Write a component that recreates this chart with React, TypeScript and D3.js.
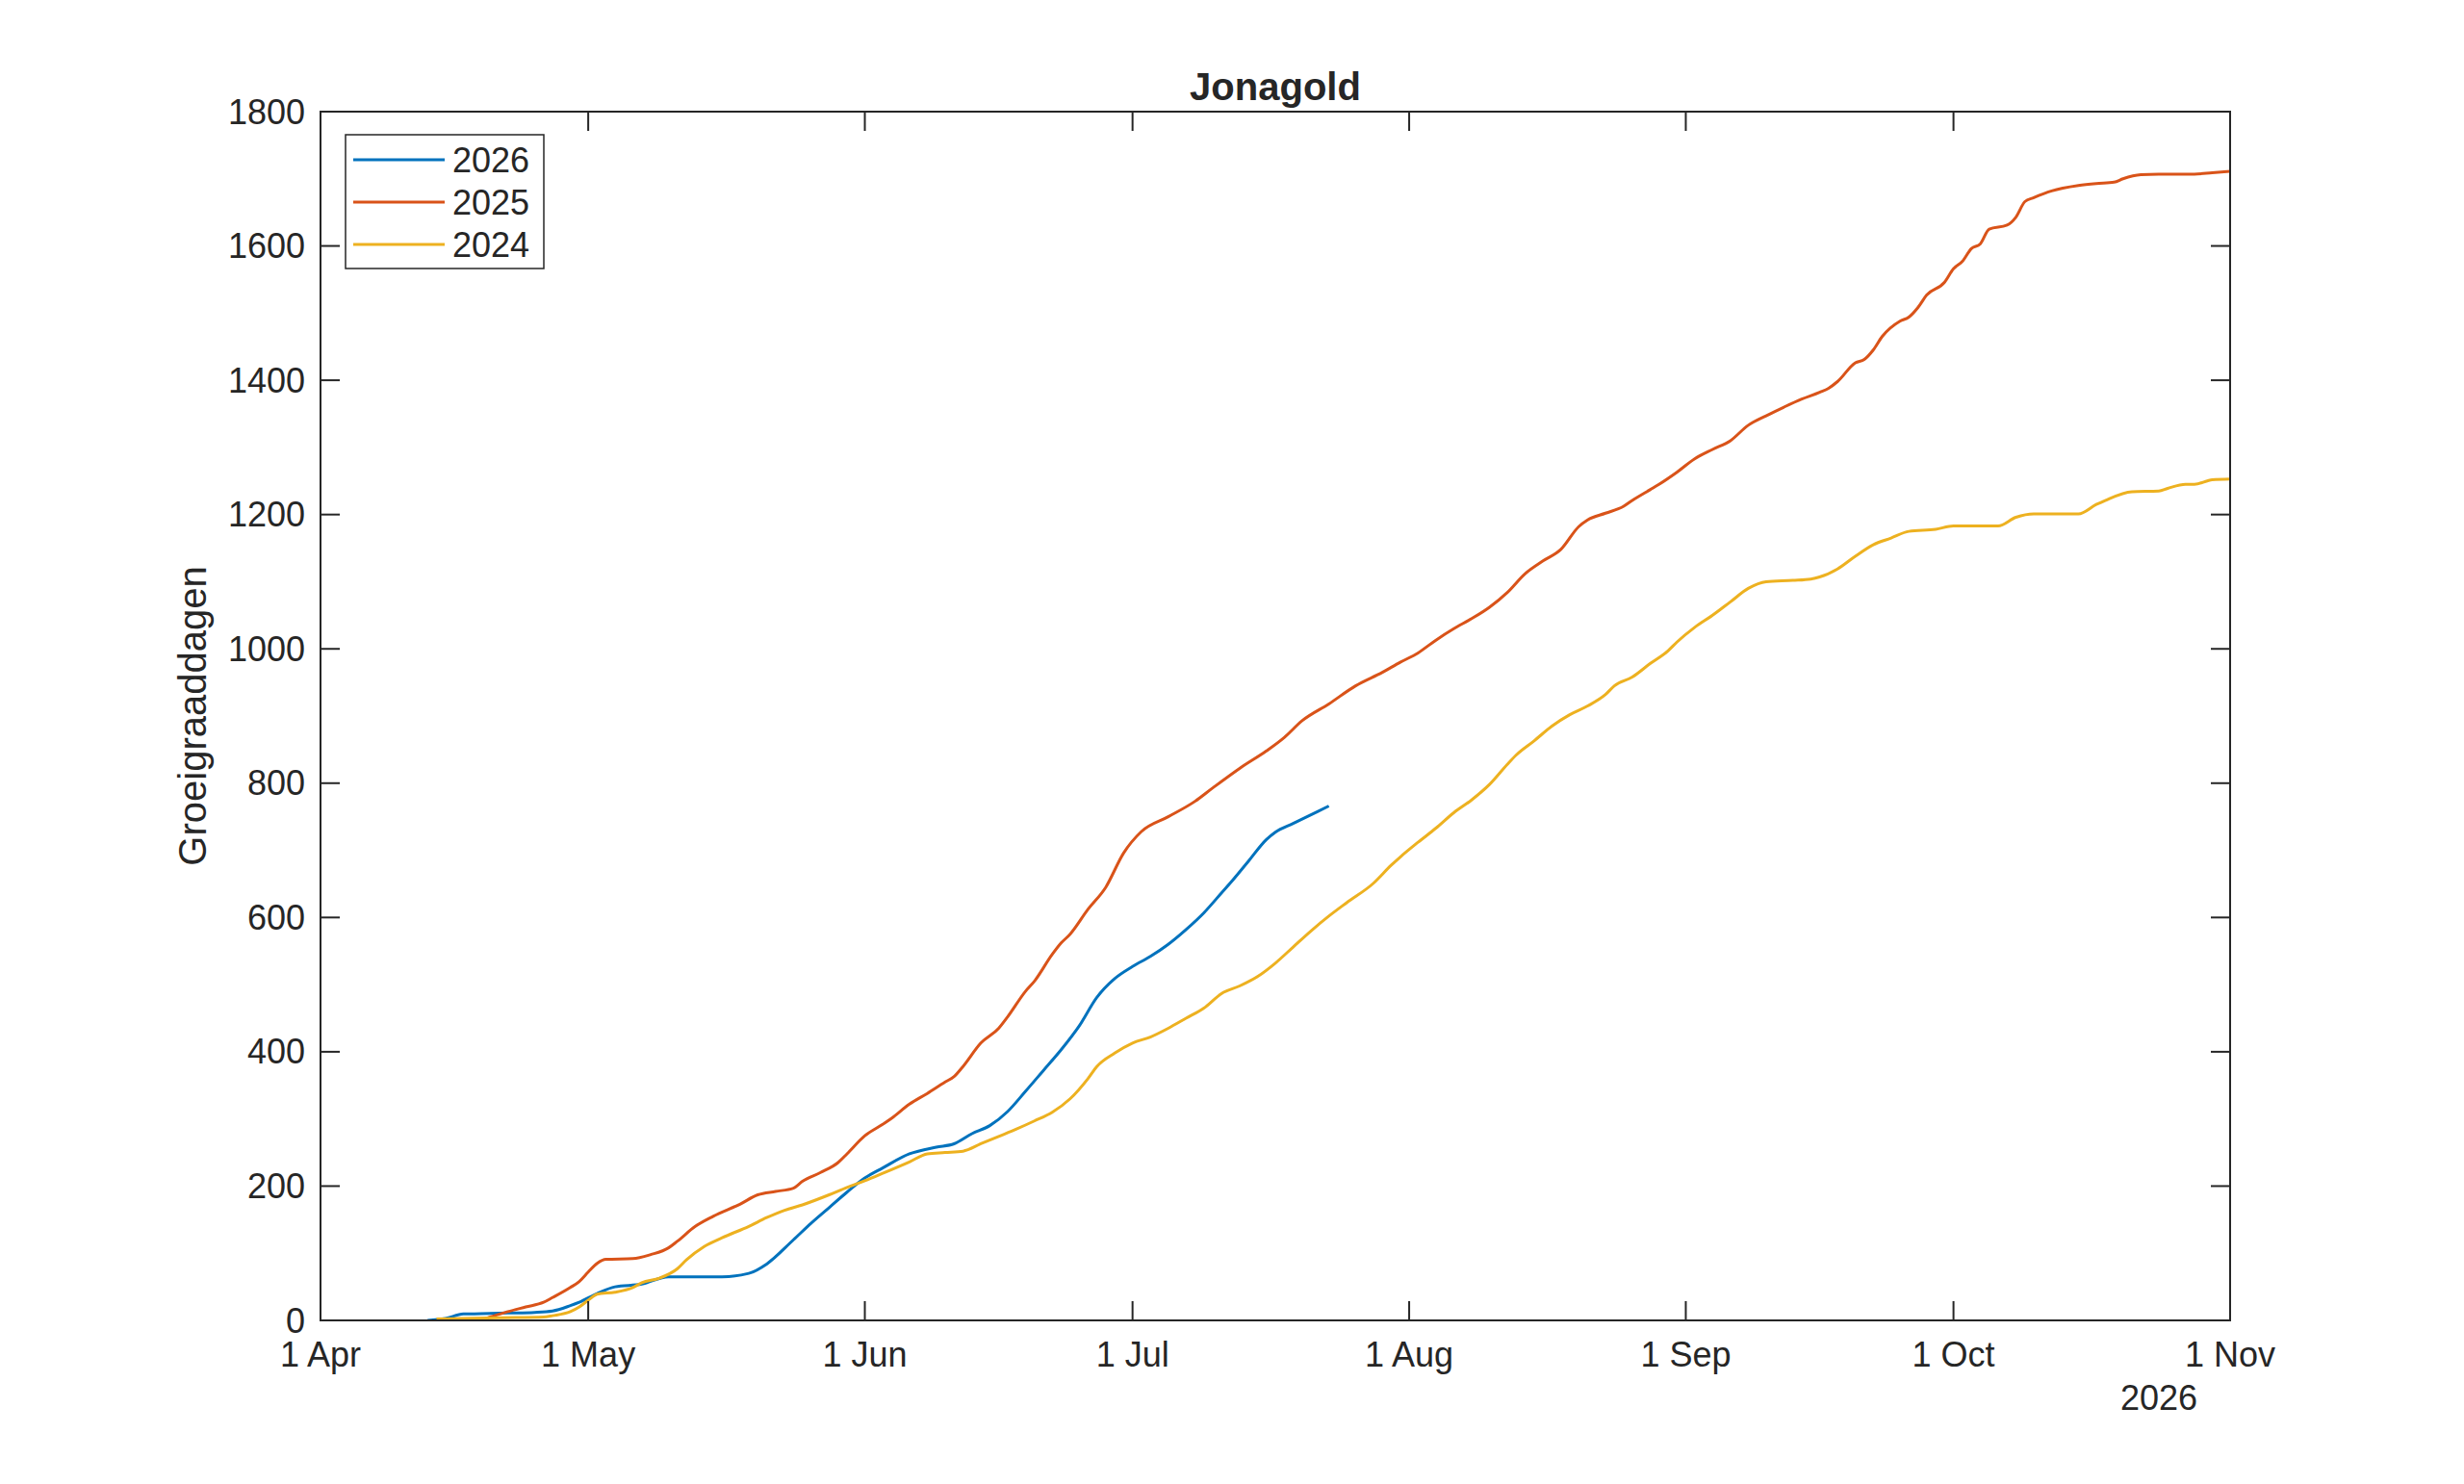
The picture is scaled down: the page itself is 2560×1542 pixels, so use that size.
import React from "react";
import * as d3 from "d3";

// Day offsets from 1 April 2026 and cumulative growing degree days
const days2026 = [12, 14, 16, 18, 21, 24, 26, 28, 29, 31, 33, 36, 39, 45, 48, 50, 53, 55, 57, 59, 61, 63, 66, 69, 71, 73, 75, 77, 79, 81, 83, 85, 87, 89, 91, 93, 95, 97, 99, 101, 102, 104, 106, 107, 109, 111, 113];
const gdd2026 = [0, 3, 9.5, 10, 11, 12, 14, 22, 27, 40, 50, 54, 65, 65, 70, 84, 120, 145, 168, 191, 212, 227, 248, 258, 263, 278, 290, 311, 341, 372, 403, 438, 481, 509, 527, 542, 560, 582, 607, 637, 652, 684, 716, 727, 740, 753, 766];

const days2025 = [18, 19, 21, 23, 25, 26, 28, 29, 30, 31, 32, 35, 37, 39, 40, 42, 44, 47, 49, 51, 53, 54, 56, 58, 59, 61, 63, 64, 66, 68, 70, 71, 72, 74, 76, 77, 79, 80, 82, 83, 84, 86, 88, 90, 92, 95, 98, 100, 103, 106, 108, 110, 113, 116, 119, 121, 123, 125, 127, 129, 131, 133, 135, 137, 139, 141, 142, 144, 146, 147, 149, 150, 152, 154, 156, 158, 160, 162, 164, 166, 168, 169, 170, 172, 173, 174, 175, 177, 178, 179, 180, 182, 183, 184, 185, 186, 187, 189, 190, 191, 192, 194, 197, 199, 201, 202, 204, 206, 210, 212, 214];
const gdd2025 = [0, 5, 13, 20, 27, 34, 49, 58, 72, 85, 91, 92, 98, 108, 118, 140, 155, 173, 187, 192, 197, 207, 220, 235, 248, 275, 292, 301, 322, 338, 355, 363, 378, 413, 435, 452, 490, 505, 545, 562, 575, 612, 645, 696, 728, 750, 773, 793, 822, 848, 868, 893, 918, 945, 965, 980, 994, 1013, 1030, 1045, 1062, 1084, 1112, 1131, 1148, 1182, 1192, 1202, 1212, 1221, 1237, 1245, 1263, 1283, 1297, 1310, 1333, 1347, 1360, 1372, 1382, 1388, 1398, 1426, 1431, 1445, 1465, 1488, 1494, 1508, 1527, 1546, 1566, 1577, 1596, 1603, 1625, 1631, 1643, 1666, 1672, 1682, 1690, 1693, 1695, 1700, 1706, 1707, 1707, 1709, 1711];

const days2024 = [13, 16, 20, 25, 26, 28, 29, 30, 31, 33, 35, 36, 38, 40, 41, 43, 45, 48, 50, 52, 54, 57, 59, 61, 63, 66, 68, 70, 72, 74, 76, 78, 80, 82, 84, 86, 87, 89, 91, 93, 95, 97, 99, 101, 103, 105, 107, 109, 111, 113, 115, 118, 120, 121, 123, 125, 127, 129, 131, 133, 134, 136, 138, 140, 142, 144, 145, 147, 149, 151, 152, 154, 156, 158, 160, 162, 165, 167, 168, 170, 172, 174, 176, 178, 181, 183, 188, 190, 192, 197, 199, 200, 203, 206, 207, 209, 210, 212, 214];
const gdd2024 = [2, 3, 4, 5, 7, 13, 20, 30, 39, 42, 49, 56, 63, 77, 90, 110, 123, 140, 153, 164, 172, 187, 198, 208, 219, 236, 248, 250, 252, 263, 274, 285, 297, 310, 330, 360, 378, 398, 413, 422, 435, 450, 465, 487, 498, 512, 532, 556, 580, 602, 622, 651, 678, 690, 712, 733, 756, 775, 798, 828, 842, 863, 885, 902, 915, 932, 945, 958, 978, 997, 1010, 1032, 1050, 1070, 1090, 1100, 1102, 1104, 1107, 1119, 1138, 1155, 1165, 1175, 1178, 1183, 1183, 1196, 1201, 1201, 1215, 1221, 1234, 1235, 1239, 1245, 1245, 1252, 1253];

const seriesNames = ["2026", "2025", "2024"];
const seriesColors = ["#0072BD", "#D95319", "#EDB120"];
const yTicks = [0, 200, 400, 600, 800, 1000, 1200, 1400, 1600, 1800];
const xTickLabels = ["1 Apr", "1 May", "1 Jun", "1 Jul", "1 Aug", "1 Sep", "1 Oct", "1 Nov"];
const chartTitle = "Jonagold";
const yLabel = "Groeigraaddagen";
const yearLabel = "2026";

const W = 2560;
const H = 1542;
const L = 333, R = 2317, T = 116, B = 1372;
const FONT = "'Liberation Sans', Arial, Helvetica, sans-serif";
const AX = "#262626";

const start = new Date(2026, 3, 1);
const toDate = (d: number) => new Date(start.getTime() + d * 86400000);

export default function App() {
  const x = d3.scaleTime().domain([start, new Date(2026, 10, 1)]).range([L, R]);
  const y = d3.scaleLinear().domain([0, 1800]).range([B, T]);
  const xTicks = d3.timeMonth.range(start, new Date(2026, 10, 2));

  const series = [
    { days: days2026, vals: gdd2026 },
    { days: days2025, vals: gdd2025 },
    { days: days2024, vals: gdd2024 },
  ];
  const line = d3
    .line<[number, number]>()
    .x((p) => x(toDate(p[0])))
    .y((p) => y(p[1]))
    .curve(d3.curveMonotoneX);

  const tickLen = 20;

  return (
    <div style={{ position: "fixed", left: 0, top: 0, width: W, height: H, background: "#fff" }}>
      <svg width={W} height={H} style={{ display: "block" }} fontFamily={FONT}>
        <rect x={0} y={0} width={W} height={H} fill="#fff" />
        {/* data lines */}
        <g clipPath="url(#clip)">
          {series.map((s, i) => (
            <path
              key={i}
              d={line(s.days.map((d, j) => [d, s.vals[j]] as [number, number])) || ""}
              fill="none"
              stroke={seriesColors[i]}
              strokeWidth={3}
              strokeLinejoin="round"
            />
          ))}
        </g>
        <defs>
          <clipPath id="clip">
            <rect x={L} y={T} width={R - L} height={B - T} />
          </clipPath>
        </defs>
        {/* axes box */}
        <rect x={L} y={T} width={R - L} height={B - T} fill="none" stroke={AX} strokeWidth={2} />
        {/* y ticks */}
        {yTicks.map((t) => (
          <g key={"y" + t}>
            <line x1={L} x2={L + tickLen} y1={y(t)} y2={y(t)} stroke={AX} strokeWidth={2} />
            <line x1={R} x2={R - tickLen} y1={y(t)} y2={y(t)} stroke={AX} strokeWidth={2} />
            <text x={L - 16} y={y(t)} dy="0.35em" textAnchor="end" fontSize={36} fill={AX}>
              {t}
            </text>
          </g>
        ))}
        {/* x ticks */}
        {xTicks.map((t, i) => (
          <g key={"x" + i}>
            <line x1={x(t)} x2={x(t)} y1={B} y2={B - tickLen} stroke={AX} strokeWidth={2} />
            <line x1={x(t)} x2={x(t)} y1={T} y2={T + tickLen} stroke={AX} strokeWidth={2} />
            <text x={x(t)} y={1420} textAnchor="middle" fontSize={36} fill={AX}>
              {xTickLabels[i]}
            </text>
          </g>
        ))}
        <text x={2283} y={1465} textAnchor="end" fontSize={36} fill={AX}>
          {yearLabel}
        </text>
        {/* title */}
        <text x={(L + R) / 2} y={104} textAnchor="middle" fontSize={40} fontWeight="bold" fill={AX}>
          {chartTitle}
        </text>
        {/* y label */}
        <text
          transform={`translate(214, ${(T + B) / 2}) rotate(-90)`}
          textAnchor="middle"
          fontSize={40}
          fill={AX}
        >
          {yLabel}
        </text>
        {/* legend */}
        <g>
          <rect x={359} y={140} width={206} height={139} fill="#fff" stroke={AX} strokeWidth={1.5} />
          {seriesNames.map((n, i) => (
            <g key={n}>
              <line x1={367} x2={462} y1={166 + i * 44} y2={166 + i * 44} stroke={seriesColors[i]} strokeWidth={3} />
              <text x={470} y={166 + i * 44} dy="0.35em" fontSize={36} fill={AX}>
                {n}
              </text>
            </g>
          ))}
        </g>
      </svg>
    </div>
  );
}
